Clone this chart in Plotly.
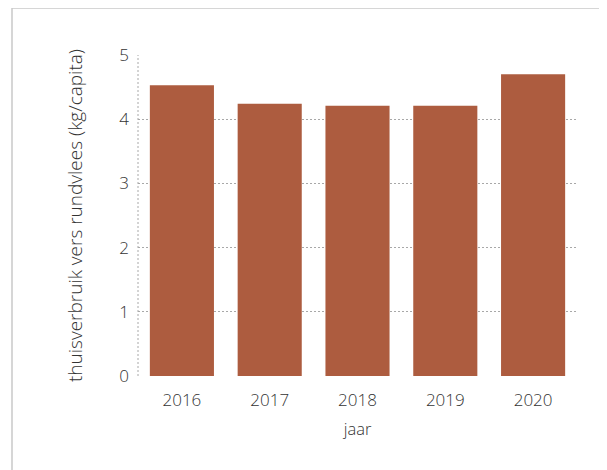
import plotly.graph_objects as go

years = ["2016", "2017", "2018", "2019", "2020"]
values = [4.53, 4.24, 4.21, 4.21, 4.70]
y_ticks = [0, 1, 2, 3, 4, 5]

# page body has an 8px offset; coordinates below are in figure space
W, H = 599, 462
L, R, T, B = 130, 30, 47, 94
pw, ph = W - L - R, H - T - B

fig = go.Figure(go.Bar(x=years, y=values, marker=dict(color="#ad5c3f", line=dict(width=0))))

font = "'Open Sans', Lato, sans-serif"
txt = "#333333"
grid = "#a8a8a8"
dash = "2px,2px"

fig.update_layout(
    width=W, height=H,
    margin=dict(l=L, r=R, t=T, b=B),
    paper_bgcolor="white", plot_bgcolor="white",
    bargap=0.27,
    showlegend=False,
    font=dict(family=font, color=txt, size=16, weight=300),
    xaxis=dict(
        type="category", showgrid=False, zeroline=False, showline=False,
        ticks="", ticklabelstandoff=12, tickfont=dict(size=17, color=txt, weight=300),
        title=dict(text="jaar", font=dict(size=16.5, color=txt, weight=300), standoff=13),
    ),
    yaxis=dict(
        range=[0, 5], tickvals=y_ticks, showgrid=True, gridcolor=grid,
        griddash=dash, gridwidth=1, zeroline=False, showline=False,
        ticks="", ticklabelstandoff=8, tickfont=dict(size=17, color=txt, weight=300),
        title=dict(text="thuisverbruik vers rundvlees (kg/capita)",
                   font=dict(size=19, color=txt, weight=300), standoff=31),
    ),
    shapes=[
        dict(type="line", xref="paper", yref="paper", x0=0, x1=0, y0=0, y1=1,
             line=dict(color=grid, width=1, dash=dash), layer="below"),
        dict(type="line", xref="paper", yref="paper",
             x0=(4 - L) / pw, x1=(4 - L) / pw, y0=1 + (T - 0) / ph, y1=-(B + 5) / ph,
             line=dict(color="#c8c8c8", width=1.5)),
        dict(type="line", xref="paper", yref="paper",
             x0=(4 - L) / pw, x1=1 + (R + 5) / pw, y0=1 + (T - 0) / ph, y1=1 + (T - 0) / ph,
             line=dict(color="#c8c8c8", width=1.5)),
    ],
)

fig.write_html("out.html")
